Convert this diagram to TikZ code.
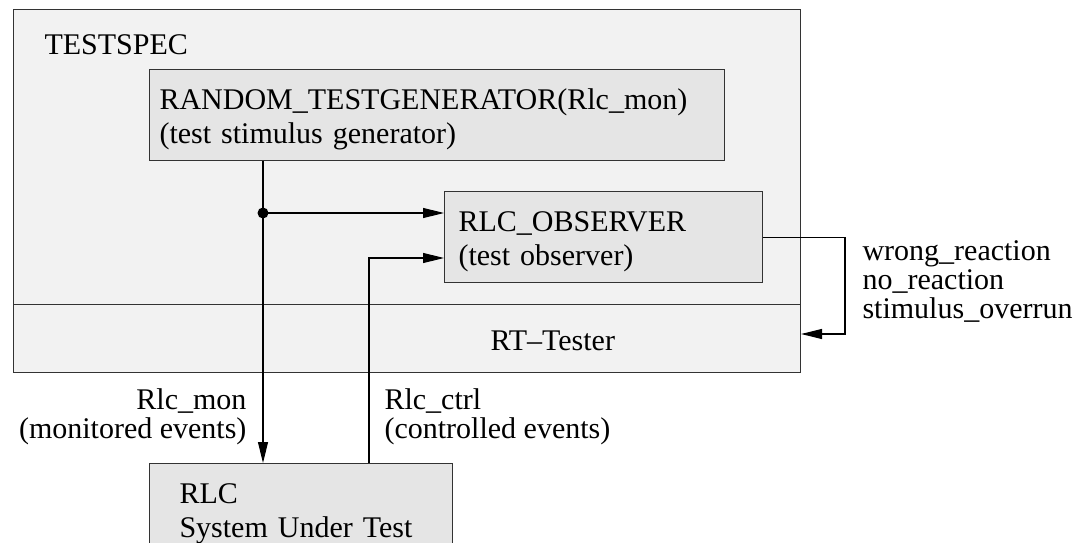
\documentclass[tikz,border=0pt]{standalone}
\usepackage{fontspec}
\setmainfont{Liberation Serif}
\usetikzlibrary{arrows.meta,positioning}

\begin{document}
\begin{tikzpicture}[x=1pt, y=-1pt, >={Triangle[length=21pt,width=10pt]}, line width=1.1pt,
region/.style={draw=black!80, fill=gray!10, minimum width=787pt, anchor=north west, inner sep=0pt},
box/.style={draw=black!80, fill=gray!20, anchor=north west, align=left, inner ysep=0pt, text height=40pt, text depth=51pt, font=\fontsize{30}{34}\selectfont},
lbl/.style={inner sep=0pt, font=\fontsize{30}{29}\selectfont}]

\useasboundingbox (0,0) rectangle (1077,543);
\node[region, minimum height=295pt] (spec) at (13,9) {};
\node[region, minimum height=68pt] (rtt) at (13,304) {};
\node[lbl, anchor=base west] (speclbl) at (44,55) {TESTSPEC};
\node[lbl, anchor=base west] (rttlbl) at (490,350) {RT--Tester};
\node[box, inner xsep=10pt, text width=555pt] (gen) at (149,69) {RANDOM\_TESTGENERATOR(Rlc\_mon)\\(test stimulus generator)};
\node[box, inner xsep=14pt, text width=290pt] (obs) at (444,191) {RLC\_OBSERVER\\(test observer)};
\node[box, inner xsep=30pt, text width=243pt] (sut) at (149,463) {RLC\\System Under Test};
\node[lbl, anchor=base east, align=right] (monlbl) at (247,438) {Rlc\_mon\\(monitored events)};
\node[lbl, anchor=base west, align=left] (ctrllbl) at (384,438) {Rlc\_ctrl\\(controlled events)};
\node[lbl, anchor=base west, align=left] (errlbl) at (862,318) {wrong\_reaction\\no\_reaction\\stimulus\_overrun};

\coordinate (split) at (263,213);
\coordinate (ctrl) at (369,258);
\coordinate (loop) at (845,334);
\draw (gen.south -| split) -- (split);
\draw[->] (split) -- (split |- sut.north);
\draw[->] (split) -- (split -| obs.west);
\fill (split) circle (5.5pt);
\draw[->] (sut.north -| ctrl) |- (ctrl -| obs.west);
\draw[->] (obs.east) -| (loop) -- (loop -| rtt.east);
\end{tikzpicture}
\end{document}
